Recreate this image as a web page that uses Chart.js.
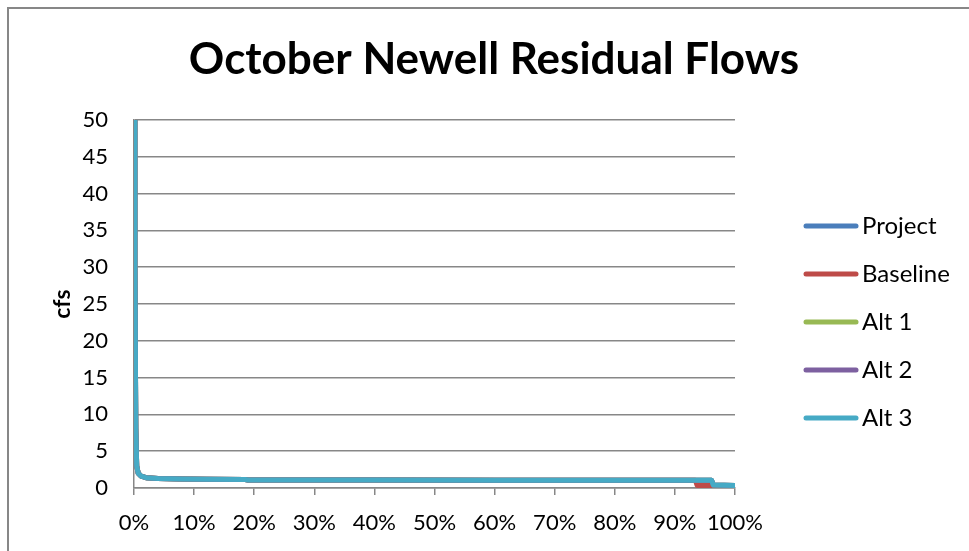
<!DOCTYPE html>
<html>
<head>
<meta charset="utf-8">
<title>October Newell Residual Flows</title>
<script src="https://cdn.jsdelivr.net/npm/chart.js@4.4.0/dist/chart.umd.min.js"></script>
<style>
  html, body { margin: 0; padding: 0; background: #fff; }
  #wrap { width: 969px; height: 551px; }
</style>
</head>
<body>
<div id="wrap"><canvas id="flows" width="969" height="551"></canvas></div>
<script>
// exceedance (% of time) and residual flow in cfs
var exceedPct = [0, 0.15, 0.3, 0.45, 0.7, 1.2, 2, 4, 8, 12, 18.5, 19, 40, 60, 80, 93.4, 93.7, 96.1, 96.4, 100];
var project  = [50, 30, 8, 3, 2, 1.6, 1.4, 1.3, 1.22, 1.18, 1.15, 1.08, 1.07, 1.06, 1.06, 1.05, 1.05, 1.05, 0.4, 0.35];
var baseline = [50, 30, 8, 3, 2, 1.6, 1.4, 1.3, 1.22, 1.18, 1.15, 1.08, 1.07, 1.06, 1.06, 1.05, 0.35, 0.35, 0.35, 0.35];
var alt1     = [50, 30, 8, 3, 2, 1.6, 1.4, 1.3, 1.22, 1.18, 1.15, 1.08, 1.07, 1.06, 1.06, 1.05, 1.05, 1.05, 0.4, 0.35];
var alt2     = [50, 30, 8, 3, 2, 1.6, 1.4, 1.3, 1.22, 1.18, 1.15, 1.08, 1.07, 1.06, 1.06, 1.05, 1.05, 1.05, 0.4, 0.35];
var alt3     = [50, 30, 8, 3, 2, 1.6, 1.4, 1.3, 1.22, 1.18, 1.15, 1.08, 1.07, 1.06, 1.06, 1.05, 1.05, 1.05, 0.4, 0.35];

var seriesNames  = ['Project', 'Baseline', 'Alt 1', 'Alt 2', 'Alt 3'];
var seriesColors = ['#4a7ebb', '#be4b48', '#98b954', '#7d60a0', '#46aac5'];
var seriesValues = [project, baseline, alt1, alt2, alt3];

var titleText = 'October Newell Residual Flows';
var FONT = 'Lato, "Open Sans", sans-serif';
var GRID = '#878787';

function toPoints(vals){
  var pts = [];
  for (var i = 0; i < vals.length; i++) pts.push({x: exceedPct[i], y: vals[i]});
  return pts;
}

var datasets = [];
for (var i = 0; i < seriesNames.length; i++) {
  datasets.push({
    label: seriesNames[i],
    data: toPoints(seriesValues[i]),
    borderColor: seriesColors[i],
    backgroundColor: seriesColors[i],
    borderWidth: 5,
    borderCapStyle: 'round',
    borderJoinStyle: 'round',
    pointRadius: 0,
    tension: 0,
    order: seriesNames.length - i   // last series ends up on top
  });
}

// outer frame + title, drawn before everything else
var framePlugin = {
  id: 'frame',
  beforeDraw: function(chart){
    var ctx = chart.ctx;
    ctx.save();
    ctx.fillStyle = '#fff';
    ctx.fillRect(0, 0, chart.width, chart.height);
    ctx.strokeStyle = GRID;
    ctx.lineWidth = 2;
    ctx.strokeRect(8, 8, 1100, 1100);
    ctx.fillStyle = '#000';
    ctx.font = 'bold 44px ' + FONT;
    ctx.textAlign = 'center';
    ctx.textBaseline = 'middle';
    ctx.fillText(titleText, 494, 60);
    ctx.restore();
  }
};

// legend on the right: short thick line + name
var legendPlugin = {
  id: 'sideLegend',
  afterDraw: function(chart){
    var ctx = chart.ctx;
    ctx.save();
    ctx.font = '24px ' + FONT;
    ctx.textBaseline = 'middle';
    ctx.textAlign = 'left';
    chart.data.datasets.forEach(function(ds, i){
      var y = 226 + i * 48;
      ctx.strokeStyle = ds.borderColor;
      ctx.lineWidth = 5;
      ctx.lineCap = 'round';
      ctx.beginPath();
      ctx.moveTo(806, y);
      ctx.lineTo(856, y);
      ctx.stroke();
      ctx.fillStyle = '#000';
      ctx.fillText(ds.label, 862, y);
    });
    ctx.restore();
  }
};

new Chart(document.getElementById('flows'), {
  type: 'line',
  data: { datasets: datasets },
  plugins: [framePlugin, legendPlugin],
  options: {
    responsive: false,
    animation: false,
    layout: { padding: { top: 120, right: 234, bottom: 0, left: 0 } },
    plugins: {
      legend: { display: false },
      title: { display: false },
      tooltip: { enabled: false }
    },
    scales: {
      x: {
        type: 'linear',
        min: 0,
        max: 100,
        afterFit: function(scale){ scale.height = 63; },
        ticks: {
          stepSize: 10,
          color: '#000',
          padding: 15,
          maxRotation: 0,
          font: { family: FONT, size: 22 },
          callback: function(v){ return v + '%'; }
        },
        grid: { drawOnChartArea: false, drawTicks: true, tickLength: 7, color: GRID, lineWidth: 1.5 },
        border: { display: true, color: GRID, width: 1.5 }
      },
      y: {
        min: 0,
        max: 50,
        afterFit: function(scale){ scale.width = 134; },
        ticks: {
          stepSize: 5,
          color: '#000',
          padding: 26,
          font: { family: FONT, size: 22 }
        },
        grid: { drawTicks: false, color: GRID, lineWidth: 1.5 },
        border: { display: true, color: GRID, width: 1.5 },
        title: {
          display: true,
          text: 'cfs',
          color: '#000',
          padding: { top: 49, bottom: 0 },
          font: { family: FONT, size: 23, weight: 'bold' }
        }
      }
    }
  }
});
</script>
</body>
</html>
